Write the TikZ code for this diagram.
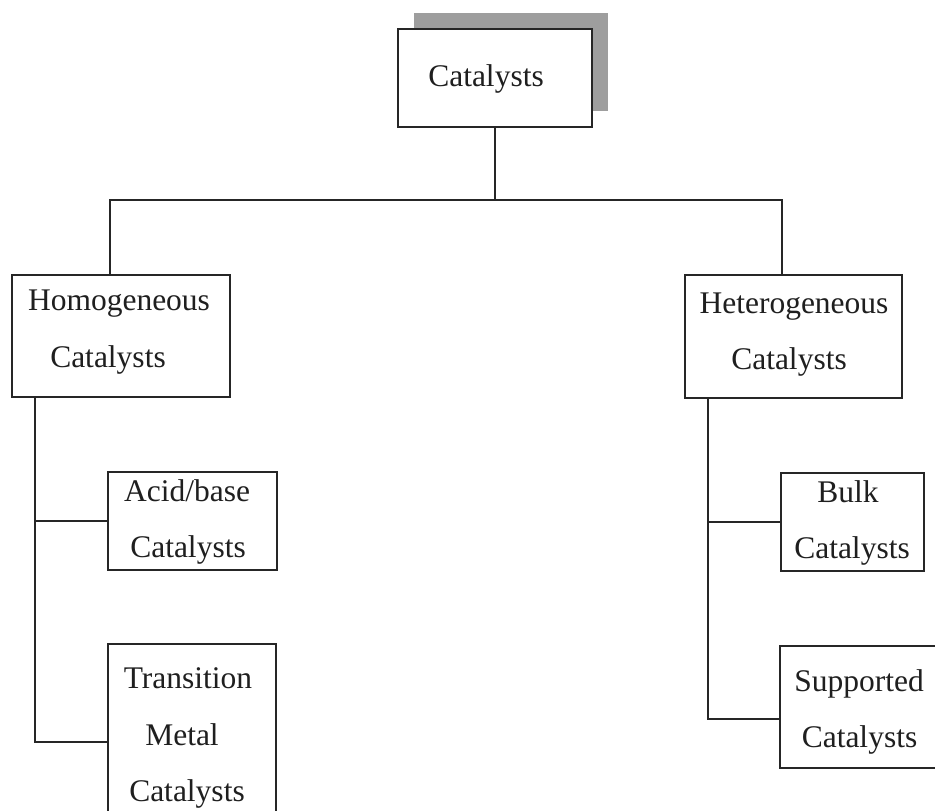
\documentclass[tikz,border=0pt]{standalone}
\usepackage{fontspec}
\setmainfont{Liberation Serif}
\usetikzlibrary{shadows}
\begin{document}
\begin{tikzpicture}[x=1pt,y=-1pt,
  box/.style={draw=black!85,line width=1.6pt,fill=white,inner sep=0pt,rectangle},
  link/.style={draw=black!85,line width=1.4pt},
  lbl/.style={anchor=base,inner sep=0pt,font=\fontsize{31.5}{38}\selectfont,text=black!88}]
\path[use as bounding box,clip] (0,0) rectangle (935,811);
% top box with shadow
\node[box,minimum width=194pt,minimum height=98pt,
  drop shadow={shadow xshift=16pt,shadow yshift=16pt,fill=black!38,opacity=1}] (cat) at (495,78) {};
\node[box,minimum width=218pt,minimum height=122pt] (hom) at (121,336) {};
\node[box,minimum width=217pt,minimum height=123pt] (het) at (793.5,336.5) {};
\node[box,minimum width=169pt,minimum height=98pt] (acid) at (192.5,521) {};
\node[box,minimum width=168pt,minimum height=196pt] (trans) at (192,742) {};
\node[box,minimum width=143pt,minimum height=98pt] (bulk) at (852.5,522) {};
\node[box,minimum width=180pt,minimum height=122pt] (sup) at (870,707) {};
% connectors
\coordinate (j) at (494,200);
\coordinate (lt) at ([xshift=-86pt]hom.south);
\coordinate (rt) at ([xshift=-85.5pt]het.south);
\draw[link] (cat.south) -- (cat.south |- j);
\draw[link] ([xshift=-11pt]hom.north) |- (j) -| ([xshift=-11.5pt]het.north);
\draw[link] (lt) |- (trans.west);
\draw[link] (acid.west) -- (acid.west -| lt);
\draw[link] (rt) |- ([yshift=-12pt]sup.west);
\draw[link] (bulk.west) -- (bulk.west -| rt);
% labels
\node[lbl] (t0) at (486,86) {Catalysts};
\node[lbl] (t1) at (119,310) {Homogeneous};
\node[lbl] (t2) at (108,367) {Catalysts};
\node[lbl] (t3) at (794,313) {Heterogeneous};
\node[lbl] (t4) at (789,369) {Catalysts};
\node[lbl] (t5) at (187,501) {Acid/base};
\node[lbl] (t6) at (188,557) {Catalysts};
\node[lbl] (t7) at (188,688) {Transition};
\node[lbl] (t8) at (182,745) {Metal};
\node[lbl] (t9) at (187,801) {Catalysts};
\node[lbl] (t10) at (848,502) {Bulk};
\node[lbl] (t11) at (852,558) {Catalysts};
\node[lbl] (t12) at (859,691) {Supported};
\node[lbl] (t13) at (859.5,747) {Catalysts};
\end{tikzpicture}
\end{document}
